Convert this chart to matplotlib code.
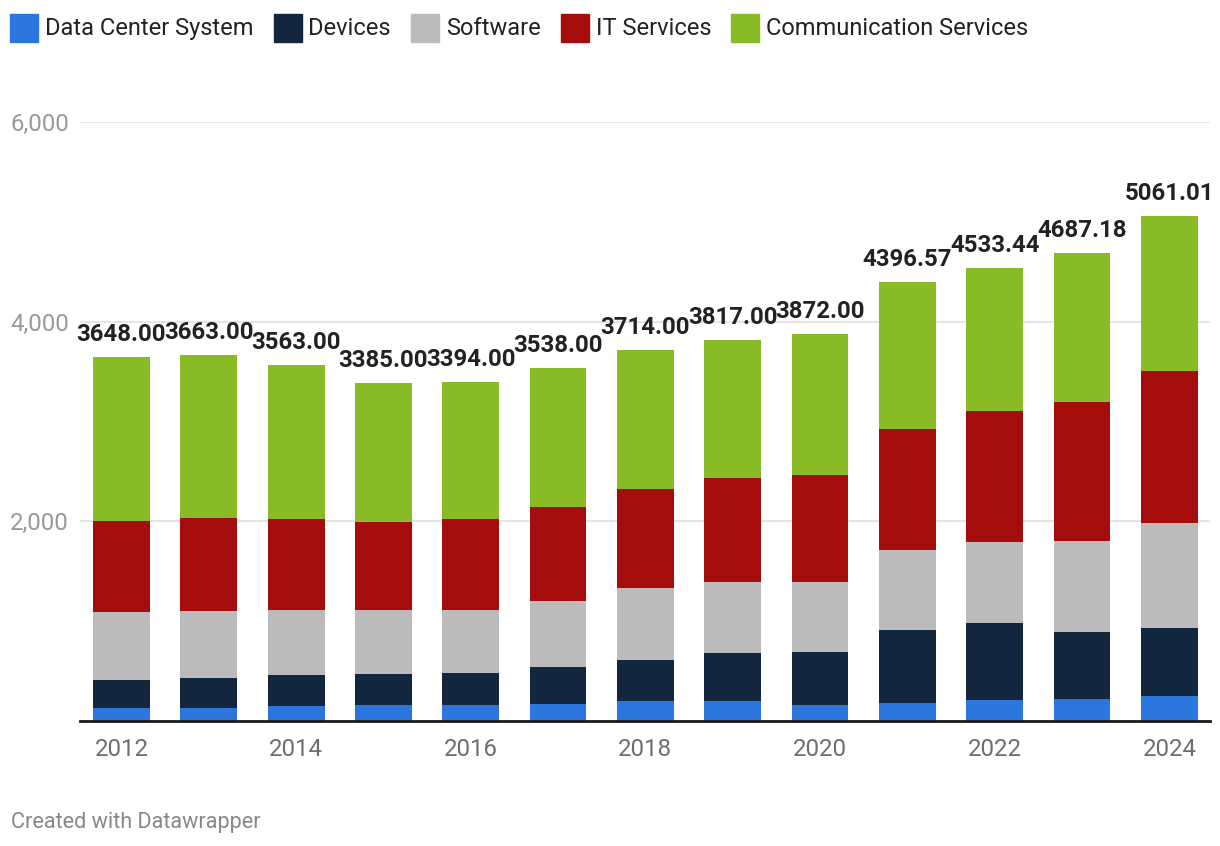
import numpy as np
import matplotlib
matplotlib.use("Agg")
import matplotlib.pyplot as plt
from matplotlib.patches import Rectangle

plt.rcParams['font.family'] = ['Roboto', 'DejaVu Sans']

years = [2012, 2013, 2014, 2015, 2016, 2017, 2018, 2019, 2020, 2021, 2022, 2023, 2024]
data_center = [131, 131, 151, 161, 161, 171, 200, 200, 158, 179, 211, 218, 250]
devices = [281, 301, 311, 311, 321, 372, 412, 482, 531, 731, 770, 671, 681]
software = [683, 674, 654, 644, 634, 663, 720, 710, 703, 802, 812, 914, 1051]
it_services = [905, 924, 904, 874, 904, 935, 991, 1040, 1072, 1212, 1311, 1392, 1522]
communication = [1648, 1633, 1543, 1395, 1374, 1397, 1391, 1385, 1408,
                 1472.57, 1429.44, 1492.18, 1557.01]

series = ["Data Center System", "Devices", "Software", "IT Services", "Communication Services"]
colors = ["#2a76dd", "#12263d", "#bbbbbb", "#a50c0c", "#89bb26"]

W, H = 1220, 846
fig = plt.figure(figsize=(W / 100, H / 100), dpi=100)
ax = fig.add_axes([80 / W, 1 - 721 / H, (1210 - 80) / W, (721 - 122) / H])

x = np.arange(len(years))
bottom = np.zeros(len(years))
for vals, col in zip([data_center, devices, software, it_services, communication], colors):
    ax.bar(x, vals, width=0.65, bottom=bottom, color=col, zorder=2)
    bottom = bottom + np.array(vals)

# totals above bars
for xi, tot in zip(x, bottom):
    ax.annotate(f"{round(tot, 2):.2f}", (xi, tot), xytext=(0, 11.5), textcoords="offset points",
                ha="center", va="baseline", fontsize=17.3, fontweight="bold", color="#222222",
                annotation_clip=False, zorder=3)

ax.set_xlim(-0.475, 12.465)
ax.set_ylim(0, 6000)
ax.set_yticks([2000, 4000, 6000])
ax.set_yticklabels(["2,000", "4,000", "6,000"])
ax.set_xticks(x[::2])
ax.set_xticklabels([str(y) for y in years[::2]])
ax.tick_params(axis="y", length=0, pad=8, labelsize=17.3, labelcolor="#999999")
ax.tick_params(axis="x", length=0, pad=12, labelsize=17.3, labelcolor="#6e6e6e")
ax.grid(axis="y", color="#e5e5e5", linewidth=1.5, zorder=0)
for s in ["top", "right", "left"]:
    ax.spines[s].set_visible(False)
ax.spines["bottom"].set_color("#1a1a1a")
ax.spines["bottom"].set_linewidth(2)
ax.spines["bottom"].set_zorder(4)

# legend row at top
fig.canvas.draw()
renderer = fig.canvas.get_renderer()
xpos = 10
for name, col in zip(series, colors):
    fig.patches.append(Rectangle((xpos / W, 1 - 42 / H), 28 / W, 28 / H,
                                 transform=fig.transFigure, color=col))
    t = fig.text((xpos + 35) / W, 1 - 35 / H, name, fontsize=17, color="#222222",
                 ha="left", va="baseline")
    bb = t.get_window_extent(renderer)
    xpos = bb.x1 + 20

fig.text(11 / W, 1 - 828 / H, "Created with Datawrapper", fontsize=15.6, color="#888888",
         ha="left", va="baseline")

fig.savefig("out.png", dpi=100)
